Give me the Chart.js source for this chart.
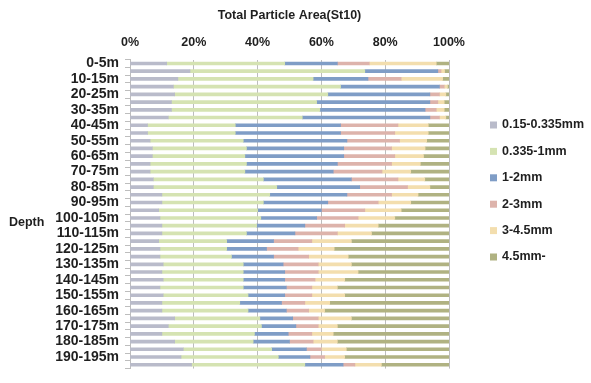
<!DOCTYPE html>
<html>
<head>
<meta charset="utf-8">
<script src="https://cdn.jsdelivr.net/npm/chart.js@4/dist/chart.umd.min.js"></script>
<style>
    html, body { margin: 0; padding: 0; background: #ffffff; }
    #wrap { position: relative; width: 591px; height: 383px; }
</style>
</head>
<body>
<div id="wrap"><canvas id="chart"></canvas></div>
<script>
// Độ sâu (trục dọc)
const depths = [
    '0-5m', '5-10m', '10-15m', '15-20m', '20-25m', '25-30m', '30-35m', '35-40m',
    '40-45m', '45-50m', '50-55m', '55-60m', '60-65m', '65-70m', '70-75m', '75-80m',
    '80-85m', '85-90m', '90-95m', '95-100m', '100-105m', '105-110m', '110-115m', '115-120m',
    '120-125m', '125-130m', '130-135m', '135-140m', '140-145m', '145-150m', '150-155m', '155-160m',
    '160-165m', '165-170m', '170-175m', '175-180m', '180-185m', '185-190m', '190-195m', '195-200m'
];

// Tên các nhóm kích thước hạt
const sizeClasses = ['0.15-0.335mm', '0.335-1mm', '1-2mm', '2-3mm', '3-4.5mm', '4.5mm-'];

// Tỷ lệ diện tích (%) theo từng nhóm
const size015 = [11.5, 18.8, 15, 13.6, 14, 13, 13, 12, 5.5, 5.5,
    6.3, 7, 7, 6.3, 6.3, 7.3, 7.3, 10, 10, 9,
    9.4, 10, 10, 9, 9.4, 9.4, 10.4, 10, 10.4, 9.4,
    10.4, 10, 10, 14, 12, 10, 14, 16.7, 16, 19.3];
const size0335 = [37, 54.8, 42.4, 52.4, 48, 45.5, 46.5, 42, 27.5, 27.5,
    29.2, 29.5, 29, 30.2, 29.7, 34.5, 38.7, 33.8, 31.8, 31,
    31.6, 29.7, 26.5, 21.3, 20.9, 22.4, 25.1, 25.5, 25.1, 26.1,
    26.6, 24.4, 27, 26.7, 29.2, 29, 24.6, 27.7, 30.5, 35.5];
const size1to2 = [16.5, 22.9, 17.2, 31, 32, 35.5, 33, 40, 33, 33,
    32.5, 30.5, 31, 28.5, 27.7, 27.6, 26, 24.2, 20.2, 20,
    17.5, 15.1, 15.2, 14.7, 12.5, 13.2, 12.5, 13, 13, 13.5,
    11.5, 13.1, 12, 10.3, 10.8, 10.6, 11.4, 10.9, 9.9, 12];
const size2to3 = [10, 1, 10.4, 1.5, 3, 2.5, 3.5, 3, 18, 17,
    16.5, 15, 16, 17, 15.3, 14.6, 15, 14, 15.8, 13.6,
    13, 12.5, 13.3, 12, 9.9, 11, 11, 10.5, 9.5, 8,
    8.5, 7.3, 7, 8, 7, 7.4, 7.4, 4.7, 4.6, 3.7];
const size3to45 = [21, 1.1, 13, 1, 2, 2, 2.5, 2, 9.5, 10.5,
    8.5, 10.5, 9, 9, 9, 8.4, 7, 8.3, 10.2, 11.4,
    11.5, 10.5, 10.7, 12.4, 11.3, 12.4, 10.4, 12.5, 9.3, 8,
    10.3, 7.8, 5, 10.4, 6, 6.7, 7.6, 7.8, 6.3, 8.3];
const size45up = [4, 1.4, 2, 0.5, 1, 1.5, 1.5, 1, 6.5, 6.5,
    7, 7.5, 8, 9, 12, 7.6, 6, 9.7, 12, 15,
    17, 22.2, 24.3, 30.6, 36, 31.6, 30.6, 28.5, 32.7, 35,
    32.7, 37.4, 39, 30.6, 35, 36.3, 35, 32.2, 32.7, 21.2];

const seriesValues = [size015, size0335, size1to2, size2to3, size3to45, size45up];
const seriesColors = ['#B9BBCA', '#D5E3B2', '#7F9DC6', '#DDB3AB', '#F3DEAE', '#B0B282'];

const FONT = '"Liberation Sans", Arial, sans-serif';
const TEXT = '#1f1f1f';

// Nhãn "Depth" nằm ngang bên trái trục
const depthLabel = {
    id: 'depthLabel',
    afterDraw(chart) {
        const ctx = chart.ctx;
        ctx.save();
        ctx.font = 'bold 12.5px ' + FONT;
        ctx.fillStyle = TEXT;
        ctx.textAlign = 'left';
        ctx.textBaseline = 'middle';
        ctx.fillText('Depth', 9, 223);
        ctx.restore();
    }
};

// Chú giải bên phải (vẽ tay để cố định vị trí)
const sideLegend = {
    id: 'sideLegend',
    afterDraw(chart) {
        const ctx = chart.ctx;
        const x = chart.chartArea.right + 41;
        ctx.save();
        ctx.font = 'bold 12.5px ' + FONT;
        ctx.textAlign = 'left';
        ctx.textBaseline = 'middle';
        chart.data.datasets.forEach((ds, i) => {
            const y = 125 + i * 26.4;
            ctx.fillStyle = ds.backgroundColor;
            ctx.fillRect(x, y - 3.5, 7, 7);
            ctx.fillStyle = TEXT;
            ctx.fillText(ds.label, x + 12, y);
        });
        ctx.restore();
    }
};

const datasets = sizeClasses.map((name, i) => ({
    label: name,
    data: seriesValues[i],
    backgroundColor: seriesColors[i],
    borderWidth: 0,
    barThickness: 3
}));

new Chart(document.getElementById('chart'), {
    type: 'bar',
    data: { labels: depths, datasets: datasets },
    plugins: [depthLabel, sideLegend],
    options: {
        indexAxis: 'y',
        responsive: true,
        maintainAspectRatio: false,
        animation: false,
        layout: { padding: { right: 142 } },
        plugins: {
            title: {
                display: true,
                text: 'Total Particle Area(St10)',
                fullSize: false,
                color: TEXT,
                font: { family: FONT, size: 12.5, weight: 'bold' },
                padding: { top: 8, bottom: 4 }
            },
            legend: { display: false },
            tooltip: { enabled: false }
        },
        scales: {
            x: {
                position: 'top',
                stacked: true,
                min: 0,
                max: 100,
                ticks: {
                    stepSize: 20,
                    padding: 10,
                    color: TEXT,
                    font: { family: FONT, size: 12.5, weight: 'bold' },
                    callback: value => value + '%'
                },
                grid: { color: '#BDBDBD', drawTicks: false },
                border: { display: false },
                afterFit: scale => { scale.height = 32.6; }
            },
            y: {
                stacked: true,
                ticks: {
                    autoSkip: false,
                    padding: 6,
                    color: TEXT,
                    font: { family: FONT, size: 14, weight: 'bold' },
                    callback: function(value, index) {
                        return index % 2 === 0 ? this.getLabelForValue(value) : '';
                    }
                },
                grid: { drawOnChartArea: false, drawTicks: true, tickLength: 5, color: '#BDBDBD' },
                border: { display: true, color: '#BDBDBD' },
                afterFit: scale => { scale.width = 130; }
            }
        }
    }
});
</script>
</body>
</html>
